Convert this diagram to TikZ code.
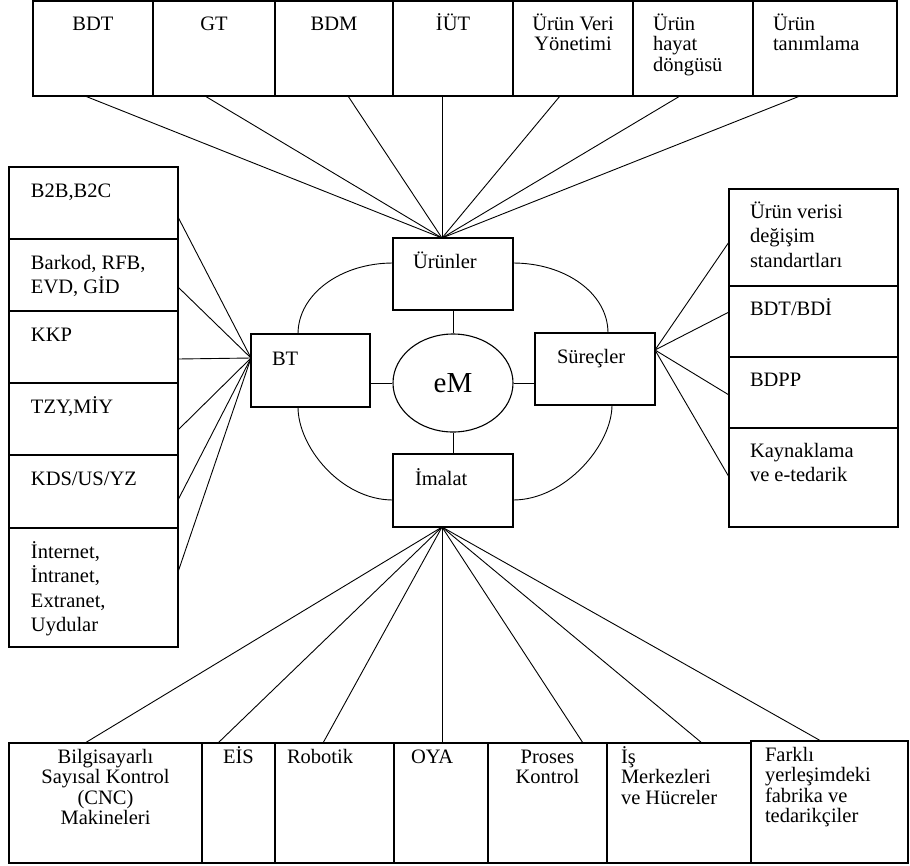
\documentclass[tikz,border=0pt]{standalone}
\usepackage{fontspec}
\setmainfont{Liberation Serif}
\usetikzlibrary{shapes.geometric}

% box contents: width, height, alignment, depth of first baseline, text
\newcommand\cellbox[5]{\parbox[t][#2][t]{#1}{#3\rule{0pt}{#4}#5}}
\newcommand\alignC{\centering}
\newcommand\alignL[1]{\raggedright\leftskip=#1\relax}
\newcommand\rowfont{\fontsize{20.5}{20.5}\selectfont}
\newcommand\sidefont{\fontsize{20.5}{24.5}\selectfont}

\tikzset{
  cell/.style={draw, line width=1.1pt, inner sep=0pt, outer sep=0pt, anchor=north west},
  link/.style={line width=0.9pt},
}

\begin{document}
\begin{tikzpicture}[x=1pt, y=-1pt]
\useasboundingbox (0,0) rectangle (910,865);

% ---- top row: product topics
\node[cell, font=\rowfont] (bdt)  at (33,1)  {\cellbox{120pt}{95pt}{\alignC}{29pt}{BDT}};
\node[cell, font=\rowfont] (gt)   at (153,1) {\cellbox{122pt}{95pt}{\alignC}{29pt}{GT}};
\node[cell, font=\rowfont] (bdm)  at (275,1) {\cellbox{118pt}{95pt}{\alignC}{29pt}{BDM}};
\node[cell, font=\rowfont] (iut)  at (393,1) {\cellbox{120pt}{95pt}{\alignC}{29pt}{İÜT}};
\node[cell, font=\rowfont] (uvy)  at (513,1) {\cellbox{120pt}{95pt}{\alignC}{29pt}{Ürün Veri\\Yönetimi}};
\node[cell, font=\rowfont] (uhd)  at (633,1) {\cellbox{120pt}{95pt}{\alignL{20pt}}{29pt}{Ürün\\hayat\\döngüsü}};
\node[cell, font=\rowfont] (utan) at (753,1) {\cellbox{144pt}{95pt}{\alignL{20pt}}{29pt}{Ürün\\tanımlama}};

% ---- left column: information technologies
\node[cell, font=\sidefont] (b2b)  at (9,167) {\cellbox{169pt}{72pt}{\alignL{22pt}}{30pt}{B2B,B2C}};
\node[cell, font=\sidefont] (bark) at (9,239) {\cellbox{169pt}{72pt}{\alignL{22pt}}{30pt}{Barkod, RFB,\\EVD, GİD}};
\node[cell, font=\sidefont] (kkp)  at (9,311) {\cellbox{169pt}{72pt}{\alignL{22pt}}{30pt}{KKP}};
\node[cell, font=\sidefont] (tzy)  at (9,383) {\cellbox{169pt}{72pt}{\alignL{22pt}}{30pt}{TZY,MİY}};
\node[cell, font=\sidefont] (kds)  at (9,455) {\cellbox{169pt}{73pt}{\alignL{22pt}}{30pt}{KDS/US/YZ}};
\node[cell, font=\sidefont] (inet) at (9,528) {\cellbox{169pt}{119pt}{\alignL{22pt}}{30pt}{İnternet,\\İntranet,\\Extranet,\\Uydular}};

% ---- right column: processes
\node[cell, font=\sidefont] (uvd)  at (729,189) {\cellbox{169pt}{97pt}{\alignL{21pt}}{29pt}{Ürün verisi\\değişim\\standartları}};
\node[cell, font=\sidefont] (bdtb) at (729,286) {\cellbox{169pt}{71pt}{\alignL{21pt}}{29pt}{BDT/BDİ}};
\node[cell, font=\sidefont] (bdpp) at (729,357) {\cellbox{169pt}{71pt}{\alignL{21pt}}{29pt}{BDPP}};
\node[cell, font=\sidefont] (kayn) at (729,428) {\cellbox{169pt}{99pt}{\alignL{21pt}}{29pt}{Kaynaklama\\ve e-tedarik}};

% ---- bottom row: manufacturing
\node[cell, font=\rowfont] (cnc)  at (9,743)   {\cellbox{193pt}{120pt}{\alignC}{20pt}{Bilgisayarlı\\Sayısal Kontrol\\(CNC)\\Makineleri}};
\node[cell, font=\rowfont] (eis)  at (202,743) {\cellbox{73pt}{120pt}{\alignC}{20pt}{EİS}};
\node[cell, font=\rowfont] (robo) at (275,743) {\cellbox{119pt}{120pt}{\alignL{12pt}}{20pt}{Robotik}};
\node[cell, font=\rowfont] (oya)  at (394,743) {\cellbox{94pt}{120pt}{\alignL{17pt}}{20pt}{OYA}};
\node[cell, font=\rowfont] (pros) at (488,743) {\cellbox{119pt}{120pt}{\alignC}{20pt}{Proses\\Kontrol}};
\node[cell, font=\rowfont] (ism)  at (607,743) {\cellbox{144pt}{120pt}{\alignL{14pt}}{20pt}{İş\\Merkezleri\\ve Hücreler}};
\node[cell, font=\rowfont] (fark) at (751,741) {\cellbox{157pt}{122pt}{\alignL{14pt}}{20pt}{Farklı\\yerleşimdeki\\fabrika ve\\tedarikçiler}};

% ---- central hub
\node[cell, font=\sidefont] (uru) at (393,238) {\cellbox{120pt}{72pt}{\alignL{20pt}}{30pt}{Ürünler}};
\node[cell, font=\sidefont] (bt)  at (251,334) {\cellbox{119pt}{73pt}{\alignL{21pt}}{31pt}{BT}};
\node[cell, font=\sidefont] (sur) at (535,333) {\cellbox{120pt}{72pt}{\alignL{22pt}}{30pt}{Süreçler}};
\node[cell, font=\sidefont] (ima) at (393,454) {\cellbox{120pt}{73pt}{\alignL{22pt}}{31pt}{İmalat}};
\node[draw, line width=1.1pt, ellipse, minimum width=120pt, minimum height=98pt, inner sep=0pt,
      font=\fontsize{29}{29}\selectfont] (em) at (453,383) {eM};

% spokes from the hub
\draw[link] (uru.south) -- (em.north);
\draw[link] (em.south) -- (ima.north);
\draw[link] (bt.east |- em.west) -- (em.west);
\draw[link] (em.east) -- (em.east -| sur.west);

% ring around the hub
\draw[link] ([yshift=-25pt]uru.north west) .. controls +(-52,0) and +(0,-40) .. ([xshift=47pt]bt.north west);
\draw[link] ([yshift=-25pt]uru.north east) .. controls +(52,0) and +(0,-40) .. ([xshift=-47pt]sur.north east);
\draw[link] ([xshift=47pt]bt.south west) .. controls +(0,40) and +(-52,0) .. ([yshift=-46pt]ima.north west);
\draw[link] ([xshift=-43pt]sur.south east) .. controls +(0,40) and +(52,0) .. ([yshift=-46pt]ima.north east);

% fan: products
\coordinate (uruTop) at ([xshift=-11pt]uru.north);
\draw[link] ([xshift=-8pt]bdt.south)   -- (uruTop);
\draw[link] ([xshift=-9pt]gt.south)    -- (uruTop);
\draw[link] ([xshift=14pt]bdm.south)   -- (uruTop);
\draw[link] ([xshift=-11pt]iut.south)  -- (uruTop);
\draw[link] ([xshift=-13pt]uvy.south)  -- (uruTop);
\draw[link] ([xshift=-13pt]uhd.south)  -- (uruTop);
\draw[link] ([xshift=-25pt]utan.south) -- (uruTop);

% fan: information technologies
\coordinate (btLeft) at ([yshift=-24pt]bt.north west);
\draw[link] ([yshift=-50pt]b2b.north east)  -- (btLeft);
\draw[link] ([yshift=-48pt]bark.north east) -- (btLeft);
\draw[link] ([yshift=-48pt]kkp.north east)  -- (btLeft);
\draw[link] ([yshift=-47pt]tzy.north east)  -- (btLeft);
\draw[link] ([yshift=-45pt]kds.north east)  -- (btLeft);
\draw[link] ([yshift=-44pt]inet.north east) -- (btLeft);

% fan: processes
\coordinate (surRight) at ([yshift=-17pt]sur.north east);
\draw[link] (surRight) -- ([yshift=-53pt]uvd.north west);
\draw[link] (surRight) -- ([yshift=-26pt]bdtb.north west);
\draw[link] (surRight) -- ([yshift=-38pt]bdpp.north west);
\draw[link] (surRight) -- ([yshift=-49pt]kayn.north west);

% fan: manufacturing
\coordinate (imaBot) at ([xshift=-11pt]ima.south);
\draw[link] (imaBot) -- ([xshift=-20.5pt]cnc.north);
\draw[link] (imaBot) -- ([xshift=-20.5pt]eis.north);
\draw[link] (imaBot) -- ([xshift=-11.5pt]robo.north);
\draw[link] (imaBot) -- ([xshift=1pt]oya.north);
\draw[link] (imaBot) -- ([xshift=35.5pt]pros.north);
\draw[link] (imaBot) -- ([xshift=23pt]ism.north);
\draw[link] (imaBot) -- ([xshift=-8.5pt]fark.north);
\end{tikzpicture}
\end{document}
